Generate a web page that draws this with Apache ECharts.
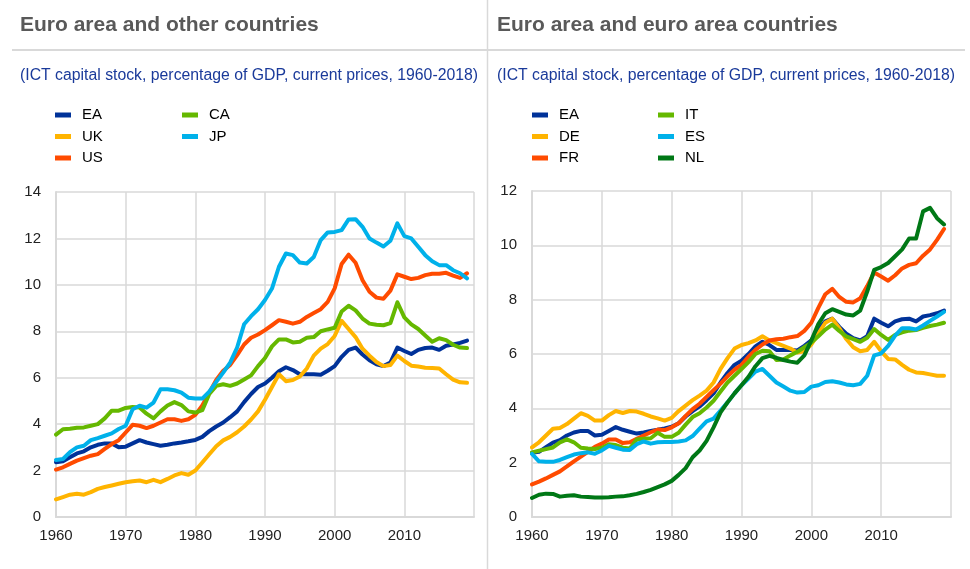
<!DOCTYPE html>
<html>
<head>
<meta charset="utf-8">
<title>ICT capital stock</title>
<script src="https://cdn.jsdelivr.net/npm/echarts@6/dist/echarts.min.js"></script>
<style>
html, body { margin: 0; padding: 0; background: #fff; }
#chart { width: 970px; height: 569px; }
</style>
</head>
<body>
<div id="chart"></div>
<script>
// years on the x axis
const years = [1960, 1961, 1962, 1963, 1964, 1965, 1966, 1967, 1968, 1969,
  1970, 1971, 1972, 1973, 1974, 1975, 1976, 1977, 1978, 1979,
  1980, 1981, 1982, 1983, 1984, 1985, 1986, 1987, 1988, 1989,
  1990, 1991, 1992, 1993, 1994, 1995, 1996, 1997, 1998, 1999,
  2000, 2001, 2002, 2003, 2004, 2005, 2006, 2007, 2008, 2009,
  2010, 2011, 2012, 2013, 2014, 2015, 2016, 2017, 2018, 2019];

// left panel: euro area and other countries
const ea = [2.36, 2.4, 2.57, 2.74, 2.83, 3.0, 3.11, 3.17, 3.17, 3.0,
  3.03, 3.17, 3.31, 3.21, 3.14, 3.07, 3.11, 3.17, 3.21, 3.26,
  3.32, 3.45, 3.7, 3.9, 4.07, 4.3, 4.55, 4.95, 5.3, 5.6,
  5.75, 6.0, 6.28, 6.45, 6.33, 6.15, 6.15, 6.15, 6.13, 6.3,
  6.5, 6.9, 7.2, 7.3, 7.0, 6.75, 6.58, 6.5, 6.65, 7.3,
  7.15, 7.02, 7.2, 7.28, 7.3, 7.2, 7.38, 7.43, 7.5, 7.6];
const uk = [0.76, 0.86, 0.96, 1.0, 0.96, 1.07, 1.21, 1.29, 1.36, 1.43,
  1.5, 1.54, 1.57, 1.5, 1.6, 1.5, 1.64, 1.79, 1.89, 1.82,
  2.0, 2.35, 2.7, 3.05, 3.3, 3.45, 3.65, 3.9, 4.2, 4.55,
  5.05, 5.6, 6.15, 5.85, 5.9, 6.05, 6.4, 6.95, 7.25, 7.45,
  7.8, 8.45, 8.1, 7.75, 7.25, 6.95, 6.68, 6.5, 6.55, 6.95,
  6.72, 6.52, 6.48, 6.43, 6.42, 6.4, 6.15, 5.92, 5.8, 5.78];
const us = [2.04, 2.14, 2.29, 2.43, 2.54, 2.64, 2.71, 2.93, 3.14, 3.31,
  3.64, 3.97, 3.93, 3.83, 3.93, 4.07, 4.21, 4.21, 4.14, 4.21,
  4.4, 4.8, 5.35, 5.9, 6.3, 6.55, 6.97, 7.43, 7.72, 7.86,
  8.05, 8.26, 8.48, 8.41, 8.33, 8.41, 8.62, 8.79, 8.95, 9.27,
  9.85, 10.9, 11.3, 10.95, 10.2, 9.7, 9.45, 9.4, 9.75, 10.45,
  10.35, 10.25, 10.3, 10.42, 10.48, 10.48, 10.52, 10.4, 10.3, 10.5];
const ca = [3.55, 3.78, 3.8, 3.84, 3.86, 3.93, 4.0, 4.25, 4.58, 4.58,
  4.7, 4.74, 4.72, 4.45, 4.25, 4.55, 4.8, 4.95, 4.82, 4.55,
  4.5, 4.6, 5.3, 5.65, 5.72, 5.65, 5.75, 5.92, 6.1, 6.5,
  6.85, 7.35, 7.65, 7.65, 7.52, 7.55, 7.72, 7.75, 8.0, 8.08,
  8.15, 8.85, 9.1, 8.9, 8.55, 8.33, 8.28, 8.26, 8.35, 9.25,
  8.6, 8.3, 8.1, 7.82, 7.55, 7.7, 7.62, 7.42, 7.3, 7.28];
const jp = [2.46, 2.5, 2.79, 3.0, 3.07, 3.31, 3.4, 3.5, 3.6, 3.79,
  3.93, 4.64, 4.79, 4.71, 4.93, 5.5, 5.5, 5.46, 5.36, 5.14,
  5.1, 5.1, 5.4, 5.82, 6.22, 6.65, 7.3, 8.3, 8.65, 8.95,
  9.35, 9.84, 10.78, 11.35, 11.28, 10.96, 10.92, 11.2, 11.93, 12.26,
  12.28, 12.36, 12.82, 12.83, 12.5, 12.0, 11.82, 11.65, 11.9, 12.65,
  12.1, 12.0, 11.64, 11.28, 11.02, 10.85, 10.85, 10.63, 10.5, 10.28];

// right panel: euro area countries (EA is the same series as above)
const de = [2.56, 2.75, 3.0, 3.25, 3.28, 3.42, 3.62, 3.82, 3.72, 3.55,
  3.55, 3.75, 3.9, 3.83, 3.9, 3.88, 3.8, 3.7, 3.63, 3.55,
  3.65, 3.9, 4.1, 4.3, 4.47, 4.65, 4.95, 5.45, 5.85, 6.2,
  6.33, 6.4, 6.5, 6.65, 6.5, 6.4, 6.3, 6.2, 6.05, 6.1,
  6.35, 6.75, 7.15, 7.3, 6.95, 6.55, 6.25, 6.1, 6.15, 6.45,
  6.1, 5.82, 5.8, 5.6, 5.42, 5.32, 5.3, 5.25, 5.2, 5.2];
const fr = [1.2, 1.3, 1.42, 1.55, 1.68, 1.86, 2.05, 2.22, 2.4, 2.58,
  2.7, 2.85, 2.85, 2.72, 2.75, 2.88, 3.0, 3.12, 3.22, 3.2,
  3.3, 3.45, 3.72, 3.97, 4.17, 4.42, 4.67, 4.91, 5.18, 5.42,
  5.6, 5.9, 6.15, 6.35, 6.5, 6.54, 6.56, 6.62, 6.66, 6.85,
  7.15, 7.7, 8.2, 8.4, 8.1, 7.92, 7.9, 8.05, 8.5, 9.0,
  8.85, 8.7, 8.9, 9.15, 9.28, 9.34, 9.62, 9.85, 10.2, 10.6];
const it = [2.38, 2.44, 2.5, 2.56, 2.75, 2.86, 2.75, 2.55, 2.52, 2.5,
  2.55, 2.68, 2.65, 2.55, 2.52, 2.85, 2.88, 2.9, 3.1, 2.95,
  2.95, 3.1, 3.4, 3.68, 3.82, 4.03, 4.28, 4.62, 4.95, 5.2,
  5.45, 5.7, 6.0, 6.12, 6.1, 5.78, 5.8, 5.95, 6.08, 6.25,
  6.42, 6.65, 6.9, 7.08, 6.85, 6.65, 6.55, 6.45, 6.6, 6.92,
  6.7, 6.52, 6.7, 6.8, 6.86, 6.88, 6.96, 7.03, 7.08, 7.15];
const es = [2.32, 2.05, 2.03, 2.03, 2.1, 2.2, 2.3, 2.35, 2.38, 2.33,
  2.45, 2.62, 2.55, 2.48, 2.47, 2.68, 2.78, 2.7, 2.75, 2.76,
  2.76, 2.78, 2.82, 2.98, 3.25, 3.52, 3.62, 3.92, 4.22, 4.55,
  4.85, 5.1, 5.35, 5.45, 5.2, 4.95, 4.8, 4.65, 4.58, 4.6,
  4.8, 4.85, 4.97, 5.0, 4.95, 4.88, 4.85, 4.9, 5.2, 5.95,
  6.02, 6.3, 6.68, 6.95, 6.95, 6.9, 7.05, 7.22, 7.38, 7.55];
const nl = [0.7, 0.82, 0.86, 0.85, 0.75, 0.78, 0.8, 0.75, 0.74, 0.72,
  0.72, 0.73, 0.75, 0.76, 0.8, 0.85, 0.92, 1.0, 1.1, 1.2,
  1.33, 1.55, 1.8, 2.2, 2.45, 2.8, 3.3, 3.85, 4.22, 4.55,
  4.85, 5.16, 5.55, 5.85, 5.93, 5.86, 5.78, 5.72, 5.68, 5.95,
  6.5, 7.1, 7.5, 7.65, 7.55, 7.45, 7.42, 7.6, 8.3, 9.1,
  9.2, 9.35, 9.6, 9.85, 10.25, 10.25, 11.25, 11.38, 11.0, 10.77];

const FONT = 'Liberation Sans, Arial, sans-serif';
const BLUE = '#003299', YELLOW = '#ffb400', ORANGE = '#ff4b00',
  GREEN = '#65b800', CYAN = '#00b1ea', DKGREEN = '#007816';
const GRID_COL = '#d9d9d9';

function pairs(vals) {
  return years.map((y, i) => [y, vals[i]]);
}

function line(name, vals, color, idx) {
  return {
    name: name, type: 'line', xAxisIndex: idx, yAxisIndex: idx,
    data: pairs(vals), symbol: 'none', showSymbol: false,
    lineStyle: { width: 4, color: color, join: 'round', cap: 'round' },
    itemStyle: { color: color },
    emphasis: { disabled: true }
  };
}

function xAxis(idx) {
  return {
    gridIndex: idx, type: 'value', min: 1960, max: 2020, interval: 10,
    axisLine: { show: true, lineStyle: { color: GRID_COL, width: 2 } },
    axisTick: { show: false },
    axisLabel: { color: '#222', fontSize: 15, fontFamily: FONT, margin: 11, showMaxLabel: false,
      formatter: v => String(v) },
    splitLine: { show: true, lineStyle: { color: GRID_COL, width: 1.5 } }
  };
}

function yAxis(idx, max) {
  return {
    gridIndex: idx, type: 'value', min: 0, max: max, interval: 2,
    axisLine: { show: true, lineStyle: { color: GRID_COL, width: 2 } },
    axisTick: { show: false },
    axisLabel: { color: '#222', fontSize: 15, fontFamily: FONT, margin: 15 },
    splitLine: { show: true, lineStyle: { color: GRID_COL, width: 1.5 } }
  };
}

function legend(names, left) {
  return {
    data: names, orient: 'vertical', left: left, top: 107.5,
    icon: 'rect', itemWidth: 16, itemHeight: 5, itemGap: 6.5,
    padding: 0, selectedMode: false,
    textStyle: { color: '#000', fontSize: 15, fontFamily: FONT, lineHeight: 15, padding: [0, 0, 0, 6] }
  };
}

const titleStyle = { color: '#595959', fontSize: 21, fontWeight: 'bold', fontFamily: FONT };
const subStyle = { color: '#1a3a9a', fontSize: 15.8, fontWeight: 'normal', fontFamily: FONT };
const subText = '(ICT capital stock, percentage of GDP, current prices, 1960-2018)';

const chart = echarts.init(document.getElementById('chart'), null, { renderer: 'canvas' });
chart.setOption({
  animation: false,
  backgroundColor: '#fff',
  title: [
    { text: 'Euro area and other countries', left: 20, top: 15, padding: 0, textStyle: titleStyle },
    { text: 'Euro area and euro area countries', left: 497, top: 15, padding: 0, textStyle: titleStyle },
    { text: subText, left: 20, top: 68, padding: 0, textStyle: subStyle },
    { text: subText, left: 497, top: 68, padding: 0, textStyle: subStyle }
  ],
  legend: [
    legend(['EA', 'UK', 'US'], 55),
    legend(['CA', 'JP'], 182),
    legend(['EA', 'DE', 'FR'], 532),
    legend(['IT', 'ES', 'NL'], 658)
  ],
  graphic: [
    { type: 'line', shape: { x1: 12, y1: 50, x2: 965, y2: 50 }, style: { stroke: GRID_COL, lineWidth: 2 } },
    { type: 'line', shape: { x1: 487.5, y1: 0, x2: 487.5, y2: 569 }, style: { stroke: GRID_COL, lineWidth: 1.5 } }
  ],
  grid: [
    { left: 56, top: 192, width: 418, height: 325 },
    { left: 532, top: 191, width: 419, height: 326 }
  ],
  xAxis: [xAxis(0), xAxis(1)],
  yAxis: [yAxis(0, 14), yAxis(1, 12)],
  series: [
    line('EA', ea, BLUE, 0),
    line('UK', uk, YELLOW, 0),
    line('US', us, ORANGE, 0),
    line('CA', ca, GREEN, 0),
    line('JP', jp, CYAN, 0),
    line('EA', ea, BLUE, 1),
    line('DE', de, YELLOW, 1),
    line('FR', fr, ORANGE, 1),
    line('IT', it, GREEN, 1),
    line('ES', es, CYAN, 1),
    line('NL', nl, DKGREEN, 1)
  ]
});
</script>
</body>
</html>
